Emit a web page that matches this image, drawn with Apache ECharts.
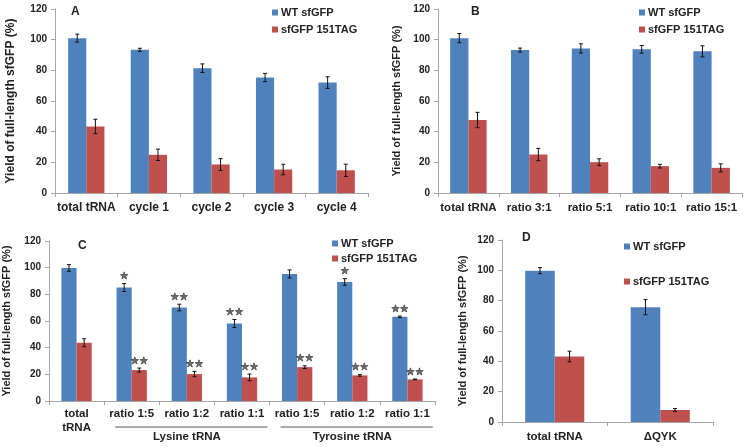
<!DOCTYPE html>
<html>
<head>
<meta charset="utf-8">
<script src="https://cdn.jsdelivr.net/npm/echarts@6/dist/echarts.min.js"></script>
<style>html,body{margin:0;padding:0;background:#fff;}#c{width:750px;height:447px;}</style>
</head>
<body>
<div id="c"></div>
<script>
// ---------- data ----------
const yTicks = [0, 20, 40, 60, 80, 100, 120];
const seriesNames = ['WT sfGFP', 'sfGFP 151TAG'];

const catsA = ['total tRNA', 'cycle 1', 'cycle 2', 'cycle 3', 'cycle 4'];
const wtA = [101, 93.4, 81.4, 75.3, 72];
const wtErrA = [2.6, 1, 2.8, 2.7, 3.8];
const tagA = [43.4, 24.9, 18.6, 15.3, 14.8];
const tagErrA = [4.7, 3.7, 3.8, 3.4, 4];

const catsB = ['total tRNA', 'ratio 3:1', 'ratio 5:1', 'ratio 10:1', 'ratio 15:1'];
const wtB = [101, 93.2, 94.3, 93.7, 92.4];
const wtErrB = [3, 1.3, 3, 2.5, 3.6];
const tagB = [47.6, 25.1, 20.1, 17.5, 16.4];
const tagErrB = [5, 4, 2.2, 1.2, 2.6];

const catsC = ['total\ntRNA', 'ratio 1:5', 'ratio 1:2', 'ratio 1:1', 'ratio 1:5', 'ratio 1:2', 'ratio 1:1'];
const wtC = [99.8, 85.1, 70.1, 58.1, 95.3, 89.3, 63.1];
const wtErrC = [2.5, 3, 2.5, 3, 3, 2.5, 0.6];
const tagC = [43.7, 23.2, 20.2, 17.7, 25.4, 19.2, 16.2];
const tagErrC = [3, 1.5, 2, 2.5, 1, 0.6, 0.3];
const wtStarsC = ['', '*', '**', '**', '', '*', '**'];
const tagStarsC = ['', '**', '**', '**', '**', '**', '**'];
const groupLabelsC = ['Lysine tRNA', 'Tyrosine tRNA'];
const groupStartC = [1, 4];
const groupEndC = [3, 6];

const catsD = ['total tRNA', '\u0394QYK'];
const wtD = [99.8, 75.7];
const wtErrD = [2, 5];
const tagD = [43.2, 7.9];
const tagErrD = [3.5, 1];

const panelLetters = ['A', 'B', 'C', 'D'];
const yTitle = 'Yield of full-length sfGFP (%)';

// ---------- styling ----------
const BLUE = '#4F81BD', RED = '#C0504D';
const TXT = '#222', AX = '#a6a6a6';

const panels = [
  {cats: catsA, wt: wtA, wtErr: wtErrA, tag: tagA, tagErr: tagErrA,
   grid: {left: 55, top: 9, width: 313, height: 184}, gap: 0.42, catFont: 12,
   nameGap: 38, nameFont: 12, legend: {left: 272, top: 7, gap: 6}},
  {cats: catsB, wt: wtB, wtErr: wtErrB, tag: tagB, tagErr: tagErrB,
   grid: {left: 438, top: 9, width: 304, height: 184}, gap: 0.40, catFont: 11.5,
   nameGap: 36, nameFont: 11, legend: {left: 639, top: 7, gap: 6}},
  {cats: catsC, wt: wtC, wtErr: wtErrC, tag: tagC, tagErr: tagErrC,
   wtStars: wtStarsC, tagStars: tagStarsC,
   grid: {left: 49, top: 241, width: 386, height: 160}, gap: 0.45, catFont: 11.5,
   nameGap: 37, nameFont: 11, legend: {left: 332, top: 238, gap: 4}, labelMargin: 6},
  {cats: catsD, wt: wtD, wtErr: wtErrD, tag: tagD, tagErr: tagErrD,
   grid: {left: 502, top: 240, width: 211, height: 182}, gap: 0.44, catFont: 11.5,
   nameGap: 34, nameFont: 11, legend: {left: 624, top: 241, gap: 24}}
];
const letterPos = [[71, 6], [471, 6], [78, 240], [522, 232]];

const grids = [], xAxes = [], yAxes = [], series = [], legends = [], titles = [];

function errRenderer(gap, sign, stars) {
  return function (params, api) {
    const idx = api.value(0), v = api.value(1), e = api.value(2);
    const band = api.size([1, 0])[0];
    const off = sign * band * (1 - gap) / 4;
    const cx = api.coord([idx, v])[0] + off;
    const yt = api.coord([idx, v + e])[1];
    const yb = api.coord([idx, v - e])[1];
    const st = {stroke: '#111', lineWidth: 1};
    const ch = [
      {type: 'line', shape: {x1: cx, y1: yt, x2: cx, y2: yb}, style: st},
      {type: 'line', shape: {x1: cx - 2, y1: yt, x2: cx + 2, y2: yt}, style: st},
      {type: 'line', shape: {x1: cx - 2, y1: yb, x2: cx + 2, y2: yb}, style: st}
    ];
    const s = stars ? stars[params.dataIndex] : '';
    if (s) {
      ch.push({type: 'text', style: {
        text: s.replace(/\*/g, '\u2605'), x: cx, y: yt - 2, align: 'center', verticalAlign: 'bottom',
        fontSize: 10, fill: '#6a6a6a', stroke: '#222', lineWidth: 0.7,
        fontFamily: 'DejaVu Sans'}});
    }
    return {type: 'group', children: ch};
  };
}

panels.forEach(function (p, i) {
  grids.push(Object.assign({containLabel: false, outerBoundsMode: 'none'}, p.grid));
  xAxes.push({
    type: 'category', gridIndex: i, data: p.cats,
    axisLine: {show: true, lineStyle: {color: AX}},
    axisTick: {show: true, length: 4, lineStyle: {color: AX}},
    axisLabel: {interval: 0, color: TXT, fontSize: p.catFont, fontWeight: 'bold',
      fontFamily: 'Liberation Sans, Arial', margin: p.labelMargin || 8, lineHeight: 14}
  });
  yAxes.push({
    type: 'value', gridIndex: i, min: yTicks[0], max: yTicks[yTicks.length - 1],
    interval: yTicks[1] - yTicks[0],
    name: yTitle, nameLocation: 'middle', nameGap: p.nameGap,
    nameTextStyle: {color: TXT, fontSize: p.nameFont, fontWeight: 'bold', fontFamily: 'Liberation Sans, Arial'},
    axisLine: {show: true, lineStyle: {color: AX}},
    axisTick: {show: true, length: 4, lineStyle: {color: AX}},
    splitLine: {show: false},
    axisLabel: {color: TXT, fontSize: 10, fontWeight: 'bold', fontFamily: 'Liberation Sans, Arial', margin: 8}
  });
  series.push({
    name: seriesNames[0], type: 'bar', xAxisIndex: i, yAxisIndex: i, data: p.wt,
    barGap: '0%', barCategoryGap: (p.gap * 100) + '%', itemStyle: {color: BLUE}, silent: true
  });
  series.push({
    name: seriesNames[1], type: 'bar', xAxisIndex: i, yAxisIndex: i, data: p.tag,
    barGap: '0%', barCategoryGap: (p.gap * 100) + '%', itemStyle: {color: RED}, silent: true
  });
  series.push({
    type: 'custom', xAxisIndex: i, yAxisIndex: i, z: 5, clip: false, silent: true,
    encode: {x: 0, y: 1},
    data: p.wt.map(function (v, k) { return [k, v, p.wtErr[k]]; }),
    renderItem: errRenderer(p.gap, -1, p.wtStars)
  });
  series.push({
    type: 'custom', xAxisIndex: i, yAxisIndex: i, z: 5, clip: false, silent: true,
    encode: {x: 0, y: 1},
    data: p.tag.map(function (v, k) { return [k, v, p.tagErr[k]]; }),
    renderItem: errRenderer(p.gap, 1, p.tagStars)
  });
  legends.push({
    data: seriesNames, orient: 'vertical', left: p.legend.left, top: p.legend.top,
    padding: 0, itemGap: p.legend.gap, itemWidth: 6, itemHeight: 6, icon: 'rect',
    textStyle: {color: TXT, fontSize: 11, fontWeight: 'bold', fontFamily: 'Liberation Sans, Arial', lineHeight: 11, padding: [0, 0, 0, -2]},
    selectedMode: false
  });
  titles.push({
    text: panelLetters[i], left: letterPos[i][0], top: letterPos[i][1], padding: 0,
    textStyle: {color: TXT, fontSize: 12, fontWeight: 'bold', fontFamily: 'Liberation Sans, Arial'}
  });
});

// group brackets for panel C (grid index 2)
series.push({
  type: 'custom', xAxisIndex: 2, yAxisIndex: 2, clip: false, silent: true,
  encode: {x: 0, y: 1},
  data: groupStartC.map(function (s, k) { return [s, 0, groupEndC[k]]; }),
  renderItem: function (params, api) {
    const band = api.size([1, 0])[0];
    const p1 = api.coord([api.value(0), 0]);
    const p2 = api.coord([api.value(2), 0]);
    const y0 = p1[1];
    return {type: 'group', children: [
      {type: 'line', shape: {x1: p1[0] - 0.3 * band, y1: y0 + 26, x2: p2[0] + 0.46 * band, y2: y0 + 26},
       style: {stroke: '#555', lineWidth: 1}},
      {type: 'text', style: {text: groupLabelsC[params.dataIndex], x: (p1[0] + p2[0]) / 2, y: y0 + 36,
        align: 'center', verticalAlign: 'middle', fill: TXT, fontSize: 11.5, fontWeight: 'bold',
        fontFamily: 'Liberation Sans, Arial'}}
    ]};
  }
});

const chart = echarts.init(document.getElementById('c'), null, {renderer: 'canvas'});
chart.setOption({
  animation: false,
  backgroundColor: '#fff',
  title: titles,
  legend: legends,
  grid: grids,
  xAxis: xAxes,
  yAxis: yAxes,
  series: series
});
</script>
</body>
</html>
